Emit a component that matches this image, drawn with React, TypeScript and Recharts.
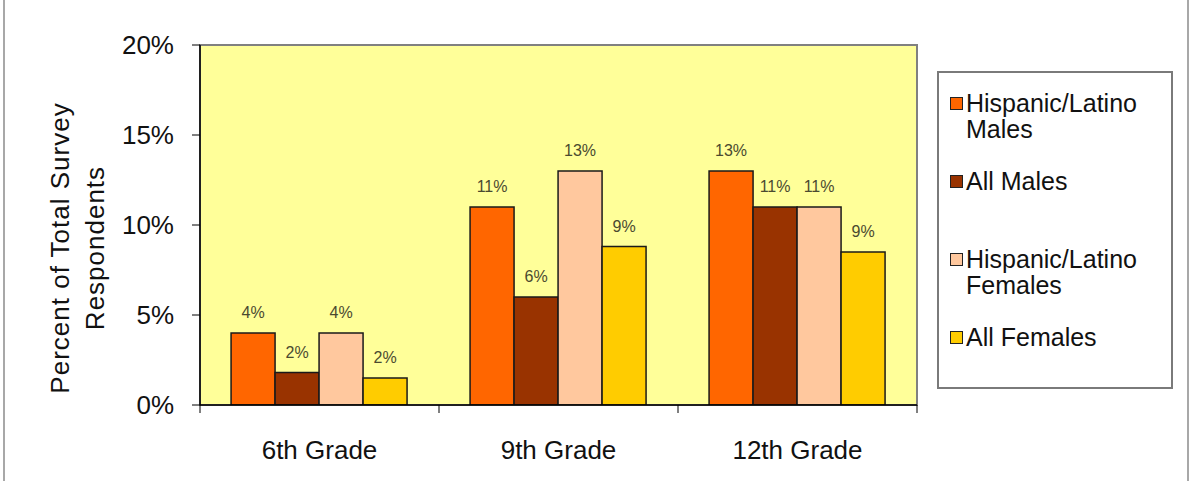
import { BarChart, Bar, XAxis, YAxis, CartesianGrid, ReferenceArea, LabelList } from 'recharts';

const grades = ['6th Grade', '9th Grade', '12th Grade'];
const hispanicMales = [4, 11, 13];
const allMales = [1.8, 6, 11];
const hispanicFemales = [4, 13, 11];
const allFemales = [1.5, 8.8, 8.5];
const yTicks = [0, 5, 10, 15, 20];

const series = [
  { key: 'hispanicMales', name: 'Hispanic/Latino Males', lines: ['Hispanic/Latino', 'Males'], color: '#ff6600' },
  { key: 'allMales', name: 'All Males', lines: ['All Males'], color: '#993300' },
  { key: 'hispanicFemales', name: 'Hispanic/Latino Females', lines: ['Hispanic/Latino', 'Females'], color: '#ffc89e' },
  { key: 'allFemales', name: 'All Females', lines: ['All Females'], color: '#ffcc00' },
];

const data = grades.map((grade, i) => ({
  grade,
  hispanicMales: hispanicMales[i],
  allMales: allMales[i],
  hispanicFemales: hispanicFemales[i],
  allFemales: allFemales[i],
}));

const W = 1193;
const H = 481;
const margin = { top: 45, right: 276, bottom: 0, left: 110 };
const Y_AXIS_W = 90;
const plotW = W - margin.left - margin.right - Y_AXIS_W;
const band = plotW / grades.length;
const font = '"Liberation Sans", Arial, sans-serif';

function GradeTick(props: any) {
  const { x, y, payload, index } = props;
  const axisY = y - 8;
  return (
    <g>
      <line x1={x - band / 2} x2={x - band / 2} y1={axisY} y2={axisY + 8} stroke="#000" />
      {index === grades.length - 1 && (
        <line x1={x + band / 2} x2={x + band / 2} y1={axisY} y2={axisY + 8} stroke="#000" />
      )}
      <text x={x} y={axisY + 54} textAnchor="middle" fontSize={26} fill="#111" fontFamily={font}>
        {payload.value}
      </text>
    </g>
  );
}

function YTitle(props: any) {
  const { viewBox } = props;
  const cy = viewBox.y + viewBox.height / 2 + 23;
  const rows = ['Percent of Total Survey', 'Respondents'];
  return (
    <g>
      {rows.map((t, i) => {
        const cx = viewBox.x - 50 + i * 35;
        return (
          <text
            key={t}
            x={cx}
            y={cy}
            transform={`rotate(-90, ${cx}, ${cy})`}
            textAnchor="middle"
            dominantBaseline="central"
            fontSize={26}
            letterSpacing={1}
            fill="#111"
            fontFamily={font}
          >
            {t}
          </text>
        );
      })}
    </g>
  );
}

export default function App() {
  return (
    <div style={{ position: 'absolute', left: 0, top: 0, width: W, height: H, background: '#fff', overflow: 'hidden' }}>
      <div style={{ position: 'absolute', left: 3, top: 0, width: 2, height: H, background: '#a8a8a8' }} />
      <div style={{ position: 'absolute', left: 1187, top: 0, width: 2, height: H, background: '#a8a8a8' }} />
      <BarChart width={W} height={H} data={data} margin={margin} barCategoryGap="13%" barGap={0}>
        <CartesianGrid horizontal={false} vertical={false} fill="#ffff99" fillOpacity={1} />
        <ReferenceArea y1={0} y2={20} fill="none" stroke="#808080" strokeWidth={2} />
        <XAxis
          dataKey="grade"
          height={76}
          axisLine={{ stroke: '#000', strokeWidth: 1.5 }}
          tickLine={false}
          tickSize={8}
          tickMargin={0}
          tick={<GradeTick />}
          interval={0}
        />
        <YAxis
          width={Y_AXIS_W}
          domain={[0, 20]}
          ticks={yTicks}
          allowDataOverflow
          tickFormatter={(v: number) => `${v}%`}
          axisLine={{ stroke: '#000', strokeWidth: 1.5 }}
          tickLine={{ stroke: '#000' }}
          tickSize={8}
          tickMargin={18}
          tick={{ fontSize: 26, fill: '#111', fontFamily: font }}
          label={<YTitle />}
        />
        {series.map((s) => (
          <Bar
            key={s.key}
            dataKey={s.key}
            name={s.name}
            fill={s.color}
            stroke="#1a1a1a"
            strokeWidth={1.5}
            isAnimationActive={false}
          >
            <LabelList
              dataKey={s.key}
              position="top"
              offset={15}
              formatter={(v: any) => `${Math.round(Number(v))}%`}
              fontSize={16}
              fill="#4a4a30"
              fontFamily={font}
            />
          </Bar>
        ))}
      </BarChart>
      <div
        style={{
          position: 'absolute',
          left: 937,
          top: 71,
          width: 236,
          height: 318,
          boxSizing: 'border-box',
          border: '2px solid #7a7a7a',
          background: '#fff',
          paddingTop: 17,
          paddingLeft: 11,
          display: 'flex',
          flexDirection: 'column',
          gap: 26,
          fontFamily: font,
          fontSize: 25,
          lineHeight: '26px',
          color: '#111',
        }}
      >
        {series.map((s) => (
          <div key={s.key} style={{ display: 'flex', alignItems: 'flex-start', height: 52 }}>
            <div
              style={{
                width: 11,
                height: 11,
                marginTop: 7,
                marginRight: 3,
                background: s.color,
                border: '1px solid #222',
                flex: 'none',
              }}
            />
            <div>
              {s.lines.map((l) => (
                <div key={l}>{l}</div>
              ))}
            </div>
          </div>
        ))}
      </div>
    </div>
  );
}
